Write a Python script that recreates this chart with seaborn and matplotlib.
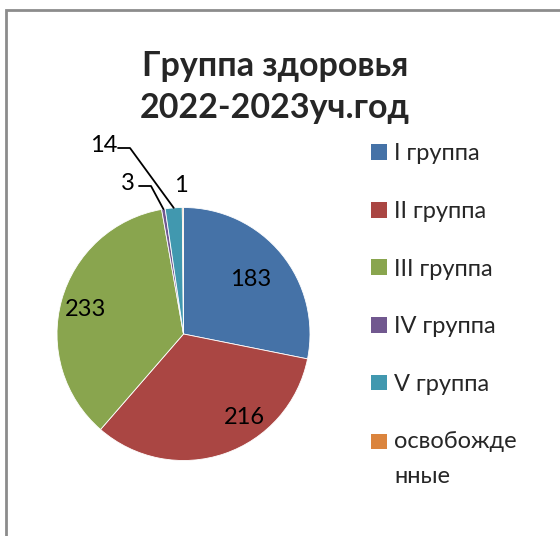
import matplotlib
matplotlib.use("Agg")
import matplotlib.pyplot as plt
import matplotlib.patches as mpatches
import seaborn as sns
import numpy as np

categories = ["I группа", "II группа", "III группа", "IV группа", "V группа", "освобожде\nнные"]
values = [183, 216, 233, 3, 14, 1]
colors = ["#4572A7", "#AA4643", "#89A54E", "#71588F", "#4198AF", "#DB843D"]
title = "Группа здоровья\n2022-2023уч.год"

sns.set_theme(style="white")
plt.rcParams['font.family'] = ['Lato', 'DejaVu Sans']

W, H = 560, 536
fig = plt.figure(figsize=(W / 100, H / 100), dpi=100)
fig.patch.set_facecolor("white")

# chart border (partially cropped)
fig.add_artist(mpatches.Rectangle((6 / W, -0.1), 1.2, (H - 10) / H + 0.1,
                                  transform=fig.transFigure, fill=False,
                                  edgecolor="#8c8c8c", linewidth=2))

cx, cy, R = 183.5, 334, 126.5
ax = fig.add_axes([(cx - R) / W, (H - cy - R) / H, 2 * R / W, 2 * R / H])

wedges, _ = ax.pie(values, colors=colors, startangle=90, counterclock=False,
                   radius=1, wedgeprops=dict(linewidth=0.6, edgecolor="white"))
ax.set_xlim(-1, 1)
ax.set_ylim(-1, 1)
ax.set_aspect("auto")
ax.set_axis_off()

def px(x, y):
    return ((x - cx) / R, (cy - y) / R)

# data labels (positions in pixel space of the reference layout)
label_pos = [(251, 279), (244, 418), (86, 309), (128, 183), (104, 145), (181, 185)]
for v, (lx, ly) in zip(values, label_pos):
    x, y = px(lx, ly)
    ax.text(x, y, str(v), ha="center", va="center", fontsize=17, color="black",
            clip_on=False)

# leader lines for small slices
for idx, (ex, ey) in [(3, (139, 186)), (4, (118, 148))]:
    w = wedges[idx]
    ang = np.deg2rad((w.theta1 + w.theta2) / 2)
    wx, wy = np.cos(ang), np.sin(ang)
    x0, y0 = px(ex, ey)
    x1, y1 = px(ex + 12, ey)
    ax.plot([x0, x1, wx], [y0, y1, wy], color="black", linewidth=1.3, clip_on=False)

fig.text(275 / W, 1 - 87 / H, title, ha="center", va="center", fontsize=24.5,
         fontweight="bold", linespacing=1.42)

handles = [mpatches.Patch(facecolor=c, edgecolor="none") for c in colors]
leg = fig.legend(handles, categories, loc="upper left", bbox_to_anchor=(362 / W, 1 - 134 / H),
                 frameon=False, fontsize=17, handlelength=0.65, handleheight=0.65,
                 handletextpad=0.3, labelspacing=1.55, borderaxespad=0)
for t in leg.get_texts():
    t.set_linespacing(1.8)
# put the square of the two-line entry next to its first line
last = leg.legend_handles[-1]
last.set_y(last.get_y() + 13)

fig.savefig("out.png", dpi=100, facecolor="white")
